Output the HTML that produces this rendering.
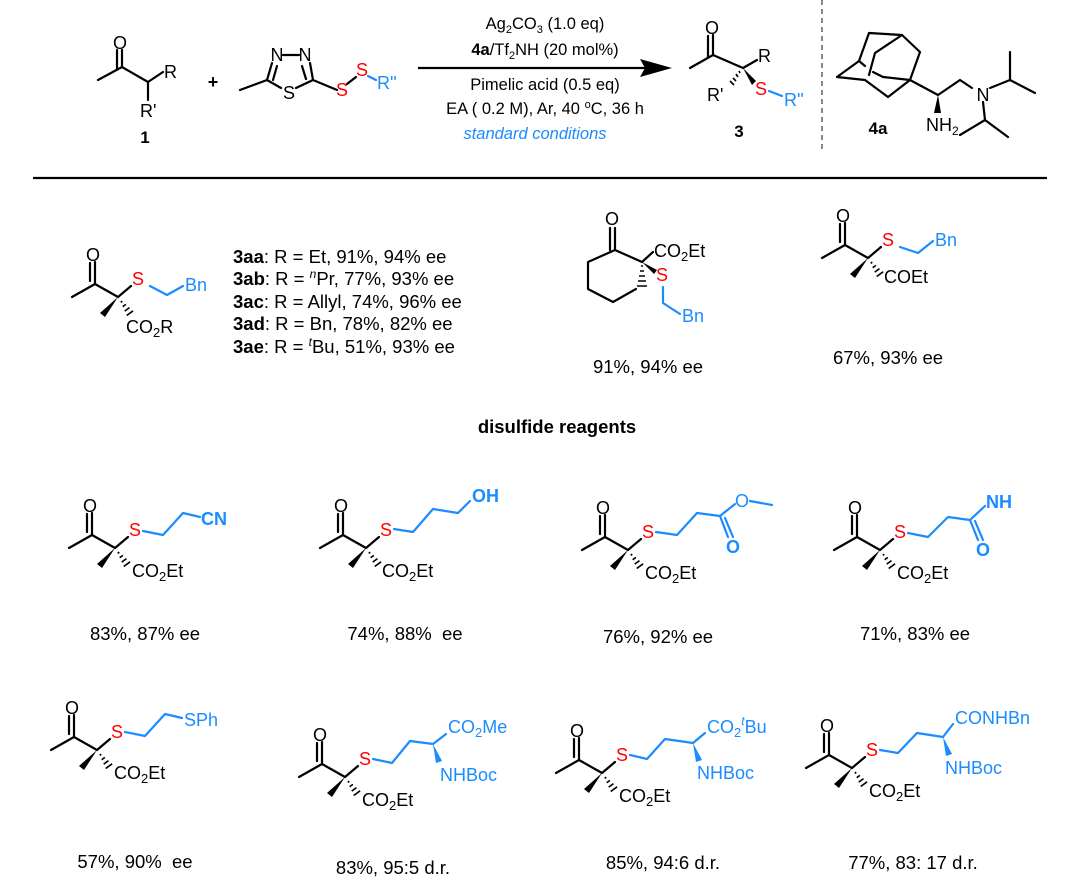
<!DOCTYPE html>
<html><head><meta charset="utf-8"><style>
html,body{margin:0;padding:0;background:#fff}
svg{display:block}
text{font-family:"Liberation Sans",Arial,sans-serif}
.b{stroke:#000;stroke-width:2.2;fill:none;stroke-linecap:round;stroke-linejoin:round}
.bl{stroke:#1a8cff;stroke-width:2.2;fill:none;stroke-linecap:round;stroke-linejoin:round}
.h{stroke:#000;stroke-width:1.6}
.lab{font-size:18px;fill:#000}
.blu{font-size:18px;fill:#1a8cff}
.red{font-size:18px;fill:#ff0000}
.y{font-size:18.5px;fill:#000;text-anchor:middle}
</style></head><body>
<svg width="1080" height="883" viewBox="0 0 1080 883" xmlns="http://www.w3.org/2000/svg">
<defs>
<g id="core">
  <path class="b" d="M-46,0 L-23,-13 L0,0 L13,-11"/>
  <path class="b" d="M-23,-13 L-23,-35 M-28,-16 L-28,-34"/>
  <text class="lab" x="-25" y="-36" text-anchor="middle" font-size="19">O</text>
  <polygon points="0,0 -18,16 -13,20" fill="#000"/>
  <path class="h" d="M2.7,5.3 L4.3,4.2 M4.7,9.7 L7.9,7.4 M6.7,14.1 L11.5,10.6 M8.7,18.5 L15.1,13.8"/>
  <text class="red" x="20" y="-12" text-anchor="middle">S</text>
</g>
</defs>

<!-- ===== Top scheme ===== -->
<path class="b" d="M98,80 L122,67 L148,82 L163,72 M148,82 L148,100 M122,67 L122,50 M117,69 L117,50"/>
<text class="lab" x="120" y="49" text-anchor="middle">O</text>
<text class="lab" x="164" y="78">R</text>
<text class="lab" x="140" y="117">R'</text>
<text x="145" y="143" font-size="17" font-weight="bold" text-anchor="middle">1</text>
<text x="213" y="88" font-size="18" font-weight="bold" text-anchor="middle">+</text>
<path class="b" d="M240,90 L267,80 L272,63 M283,55 L299,55 M310,63 L313,80 L337,90 M267,80 L281,88 M313,80 L296,88 M273,80 L277,66 M306,79 L302,66"/>
<text class="lab" x="277" y="61" text-anchor="middle">N</text>
<text class="lab" x="305" y="61" text-anchor="middle">N</text>
<text class="lab" x="289" y="99" text-anchor="middle" font-size="17">S</text>
<text class="red" x="342" y="96" text-anchor="middle">S</text>
<path class="b" d="M347,84 L356,77"/>
<text class="red" x="362" y="76" text-anchor="middle">S</text>
<path class="bl" d="M368,76 L376,80"/>
<text class="blu" x="377" y="89">R''</text>
<line x1="418" y1="68" x2="645" y2="68" stroke="#000" stroke-width="2.2"/>
<polygon points="672,68 640,59 645,68 640,77" fill="#000"/>
<g font-size="16.5" text-anchor="middle" fill="#000">
<text x="545" y="29">Ag<tspan font-size="11" dy="4">2</tspan><tspan dy="-4">CO</tspan><tspan font-size="11" dy="4">3</tspan><tspan dy="-4"> (1.0 eq)</tspan></text>
<text x="545" y="55"><tspan font-weight="bold">4a</tspan>/Tf<tspan font-size="11" dy="4">2</tspan><tspan dy="-4">NH (20 mol%)</tspan></text>
<text x="545" y="90">Pimelic acid (0.5 eq)</text>
<text x="545" y="114">EA ( 0.2 M), Ar, 40 <tspan font-size="11" dy="-6">o</tspan><tspan dy="6">C, 36 h</tspan></text>
<text x="535" y="139" fill="#1a8cff" font-style="italic">standard conditions</text>
</g>
<path class="b" d="M690,68 L713,55 L743,68 L757,60 M713,55 L713,35 M708,57 L708,36"/>
<text class="lab" x="712" y="34" text-anchor="middle">O</text>
<text class="lab" x="758" y="62">R</text>
<polygon points="743,68 752,85 756,81" fill="#000"/>
<path class="h" d="M739,71 L740,73 M736,74 L738,77 M733,78 L736,81 M730,81 L734,85"/>
<text class="lab" x="707" y="101">R'</text>
<text class="red" x="761" y="95" text-anchor="middle">S</text>
<path class="bl" d="M769,91 L782,96"/>
<text class="blu" x="784" y="106">R''</text>
<text x="739" y="137" font-size="17" font-weight="bold" text-anchor="middle">3</text>
<line x1="822" y1="0" x2="822" y2="152" stroke="#888" stroke-width="2" stroke-dasharray="5,4"/>
<path class="b" d="M869,33 L902,35 L920,52 L910,80 L888,97 L865,80 L837,77 L859,61 L869,33 M902,35 L875,53 L869,75 M859,61 L865,66 M873,72 L883,77 L910,80"/>
<path class="b" d="M910,80 L938,95 L960,80 L972,88 M990,88 L1010,80 L1010,52 M1010,80 L1035,93 M983,102 L985,120 L960,135 M985,120 L1008,137"/>
<polygon points="938,95 934,113 941,113" fill="#000"/>
<text class="lab" x="983" y="101" text-anchor="middle">N</text>
<text class="lab" x="926" y="131">NH<tspan font-size="12" dy="4">2</tspan></text>
<text x="878" y="134" font-size="17" font-weight="bold" text-anchor="middle">4a</text>

<line x1="33" y1="178" x2="1047" y2="178" stroke="#000" stroke-width="2.2"/>

<!-- ===== Row 1 ===== -->
<use href="#core" x="118" y="297"/>
<path class="bl" d="M150,286 L167,295 L183,286"/>
<text class="blu" x="185" y="291">Bn</text>
<text class="lab" x="126" y="333">CO<tspan font-size="13" dy="4">2</tspan><tspan dy="-4">R</tspan></text>
<g font-size="18.5" fill="#000">
<text x="233" y="263"><tspan font-weight="bold">3aa</tspan>: R = Et, 91%, 94% ee</text>
<text x="233" y="285"><tspan font-weight="bold">3ab</tspan>: R = <tspan font-size="12" dy="-7" font-style="italic">n</tspan><tspan dy="7">Pr, 77%, 93% ee</tspan></text>
<text x="233" y="308"><tspan font-weight="bold">3ac</tspan>: R = Allyl, 74%, 96% ee</text>
<text x="233" y="330"><tspan font-weight="bold">3ad</tspan>: R = Bn, 78%, 82% ee</text>
<text x="233" y="353"><tspan font-weight="bold">3ae</tspan>: R = <tspan font-size="12" dy="-7" font-style="italic">t</tspan><tspan dy="7">Bu, 51%, 93% ee</tspan></text>
</g>
<path class="b" d="M615,250 L642,262 L653,252 M615,250 L588,262 L588,289 L613,302 L636,289 M615,250 L615,228 M610,250 L610,228"/>
<text class="lab" x="612" y="225" text-anchor="middle">O</text>
<text class="lab" x="654" y="257">CO<tspan font-size="13" dy="4">2</tspan><tspan dy="-4">Et</tspan></text>
<path class="h" d="M641,266 L643,266 M640,271 L644,271 M639,276 L645,276 M638,281 L646,281 M637,286 L647,286"/>
<polygon points="642,262 657,270 654,274" fill="#000"/>
<text class="red" x="662" y="281" text-anchor="middle">S</text>
<path class="bl" d="M663,287 L663,303 L680,314"/>
<text class="blu" x="682" y="322">Bn</text>
<text class="y" x="648" y="373">91%, 94% ee</text>
<use href="#core" x="868" y="258"/>
<path class="bl" d="M900,247 L918,253 L933,241"/>
<text class="blu" x="935" y="246">Bn</text>
<text class="lab" x="884" y="283">COEt</text>
<text class="y" x="888" y="364">67%, 93% ee</text>

<text x="557" y="433" font-size="18.5" font-weight="bold" text-anchor="middle">disulfide reagents</text>

<!-- ===== Row 2 ===== -->
<use href="#core" x="115" y="548"/>
<path class="bl" d="M143,531 L163,535 L183,513 L200,517"/>
<text x="201" y="525" font-size="18" font-weight="bold" fill="#1a8cff">CN</text>
<text class="lab" x="132" y="577">CO<tspan font-size="13" dy="4">2</tspan><tspan dy="-4">Et</tspan></text>
<text class="y" x="145" y="640">83%, 87% ee</text>

<use href="#core" x="366" y="548"/>
<path class="bl" d="M394,529 L413,532 L433,509 L458,513 L470,501"/>
<text x="472" y="502" font-size="18" font-weight="bold" fill="#1a8cff">OH</text>
<text class="lab" x="382" y="577">CO<tspan font-size="13" dy="4">2</tspan><tspan dy="-4">Et</tspan></text>
<text class="y" x="405" y="640">74%, 88%&#160; ee</text>

<use href="#core" x="628" y="550"/>
<path class="bl" d="M656,532 L677,535 L697,513 L720,516 L735,504 M750,501 L772,505 M720,516 L728,537 M725,518 L733,537"/>
<text x="742" y="507" font-size="18" fill="#1a8cff" text-anchor="middle">O</text>
<text x="733" y="553" font-size="18" font-weight="bold" fill="#1a8cff" text-anchor="middle">O</text>
<text class="lab" x="645" y="579">CO<tspan font-size="13" dy="4">2</tspan><tspan dy="-4">Et</tspan></text>
<text class="y" x="658" y="643">76%, 92% ee</text>

<use href="#core" x="880" y="550"/>
<path class="bl" d="M908,533 L928,537 L948,517 L970,520 L985,506 M970,520 L978,540 M975,521 L983,540"/>
<text x="986" y="508" font-size="18" font-weight="bold" fill="#1a8cff">NH</text>
<text x="983" y="556" font-size="18" font-weight="bold" fill="#1a8cff" text-anchor="middle">O</text>
<text class="lab" x="897" y="579">CO<tspan font-size="13" dy="4">2</tspan><tspan dy="-4">Et</tspan></text>
<text class="y" x="915" y="640">71%, 83% ee</text>

<!-- ===== Row 3 ===== -->
<use href="#core" x="97" y="750"/>
<path class="bl" d="M125,732 L145,736 L165,714 L182,718"/>
<text class="blu" x="184" y="726">SPh</text>
<text class="lab" x="114" y="779">CO<tspan font-size="13" dy="4">2</tspan><tspan dy="-4">Et</tspan></text>
<text class="y" x="135" y="868">57%, 90%&#160; ee</text>

<use href="#core" x="345" y="777"/>
<path class="bl" d="M373,759 L392,763 L410,741 L433,744 L446,734"/>
<polygon points="433,744 436,763 442,761" fill="#1a8cff"/>
<text class="blu" x="448" y="733">CO<tspan font-size="13" dy="4">2</tspan><tspan dy="-4">Me</tspan></text>
<text class="blu" x="440" y="781">NHBoc</text>
<text class="lab" x="362" y="806">CO<tspan font-size="13" dy="4">2</tspan><tspan dy="-4">Et</tspan></text>
<text class="y" x="393" y="874">83%, 95:5 d.r.</text>

<use href="#core" x="602" y="773"/>
<path class="bl" d="M630,755 L647,759 L665,739 L693,743 L705,733"/>
<polygon points="693,743 696,762 702,760" fill="#1a8cff"/>
<text class="blu" x="707" y="733">CO<tspan font-size="13" dy="4">2</tspan><tspan font-size="12" dy="-12" font-style="italic">t</tspan><tspan dy="8">Bu</tspan></text>
<text class="blu" x="697" y="779">NHBoc</text>
<text class="lab" x="619" y="802">CO<tspan font-size="13" dy="4">2</tspan><tspan dy="-4">Et</tspan></text>
<text class="y" x="663" y="869">85%, 94:6 d.r.</text>

<use href="#core" x="852" y="768"/>
<path class="bl" d="M880,750 L898,753 L917,733 L943,737 L953,724"/>
<polygon points="943,737 946,756 952,754" fill="#1a8cff"/>
<text class="blu" x="955" y="724">CONHBn</text>
<text class="blu" x="945" y="774">NHBoc</text>
<text class="lab" x="869" y="797">CO<tspan font-size="13" dy="4">2</tspan><tspan dy="-4">Et</tspan></text>
<text class="y" x="913" y="869">77%, 83: 17 d.r.</text>
</svg>
</body></html>
